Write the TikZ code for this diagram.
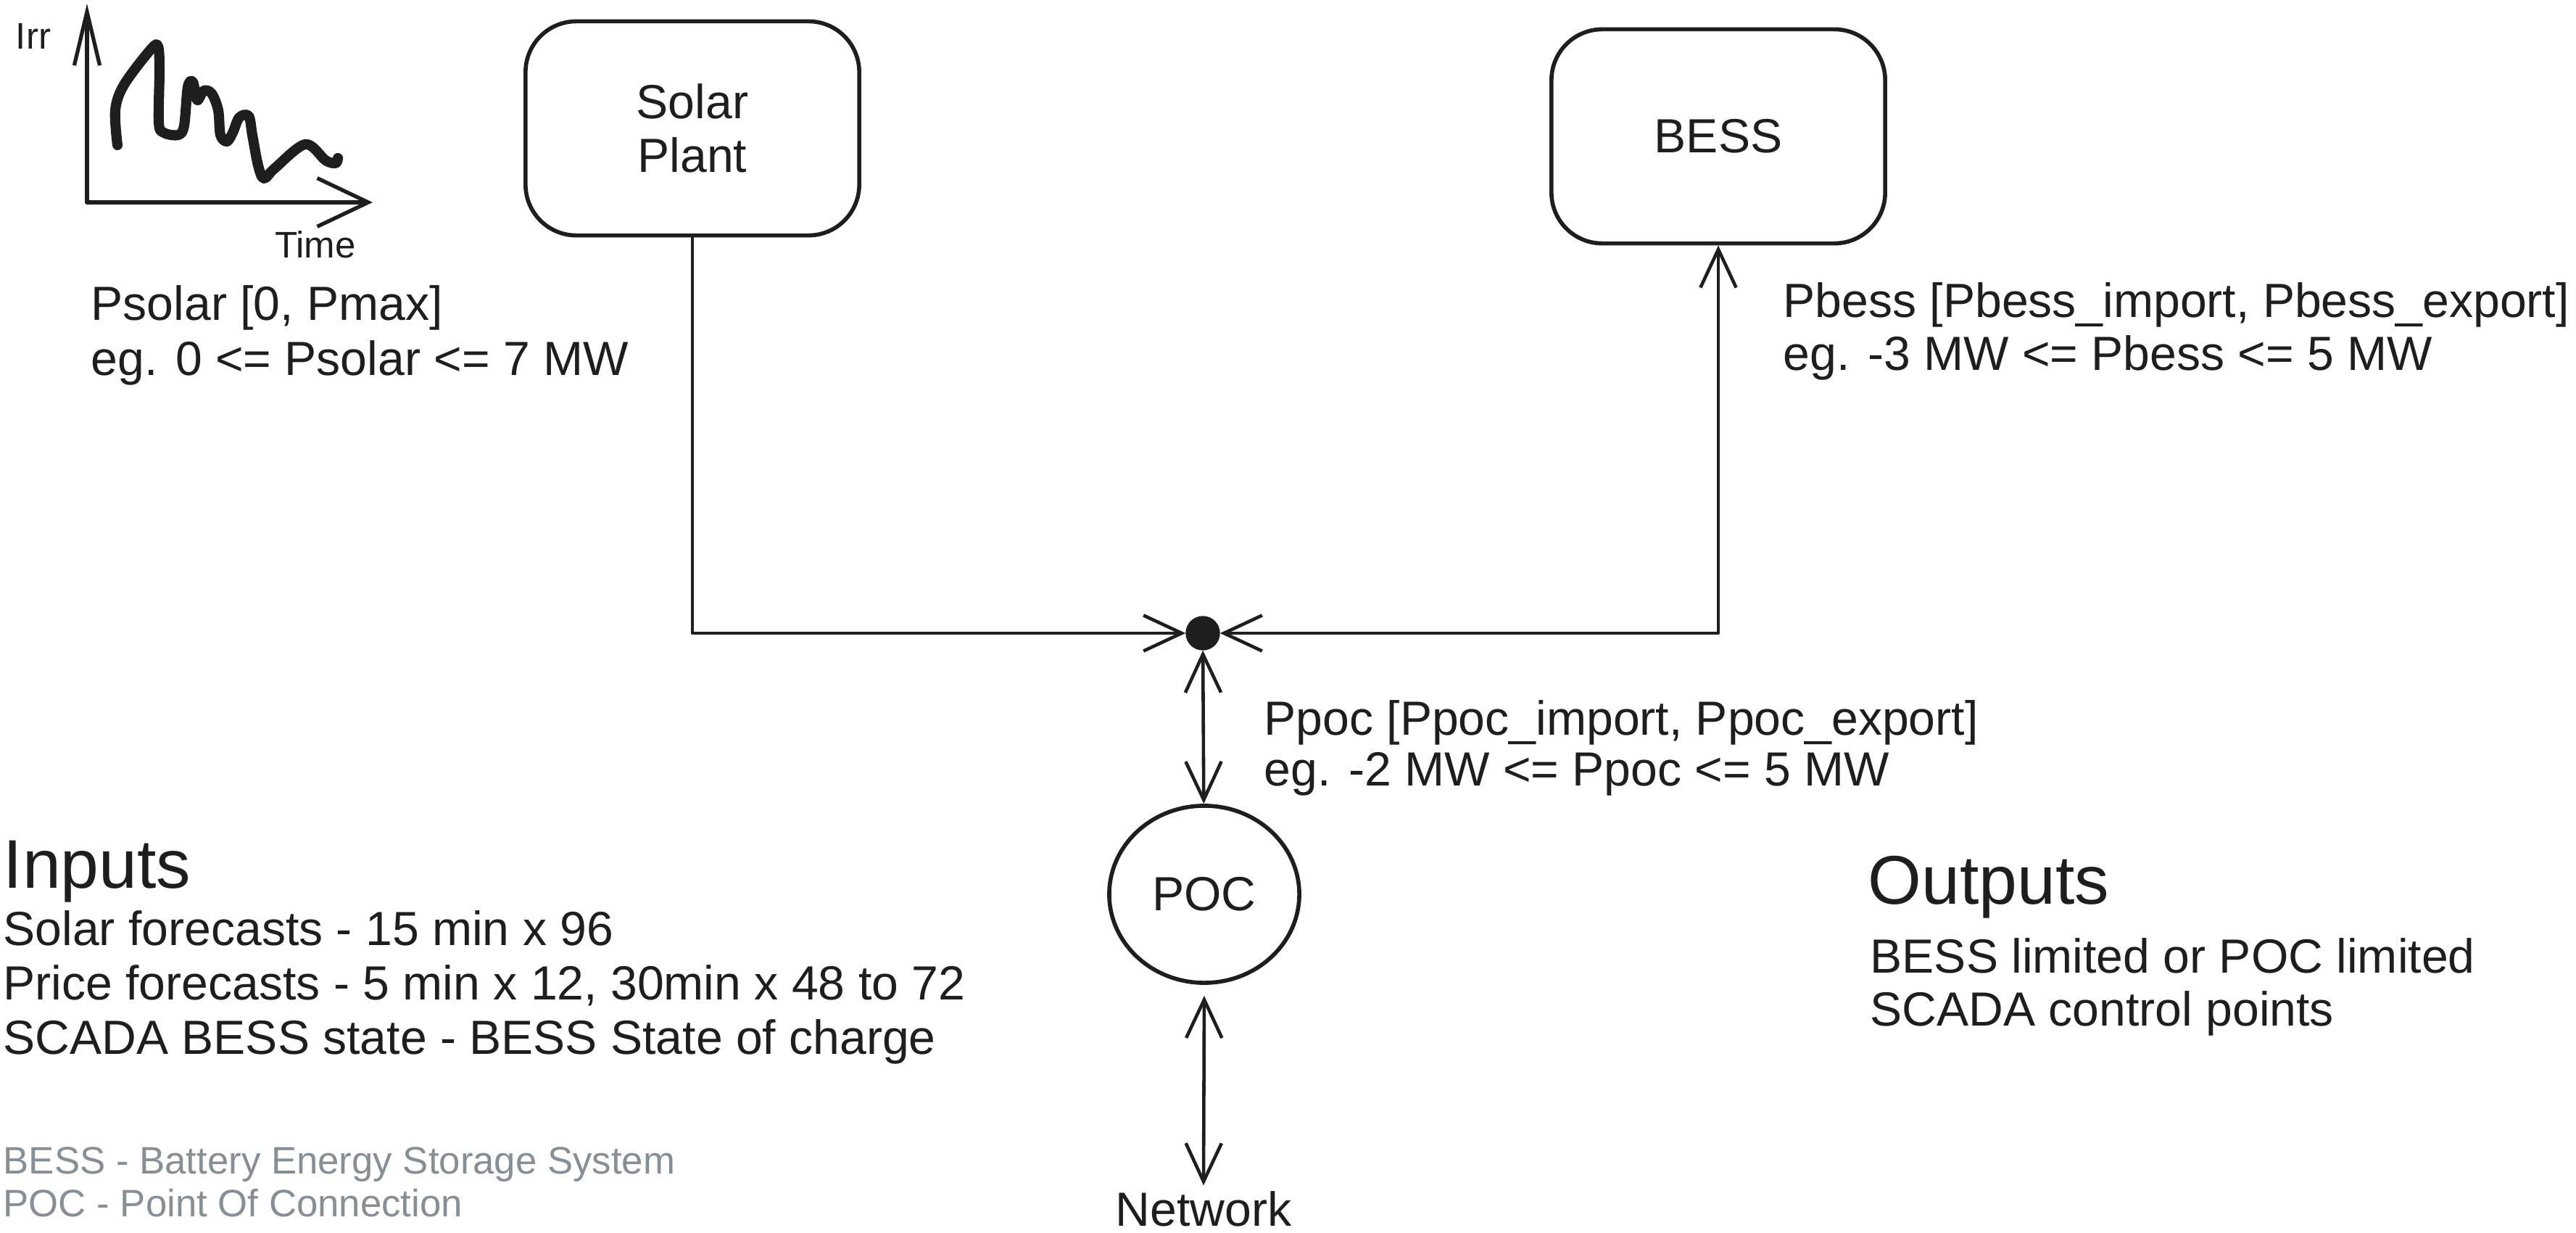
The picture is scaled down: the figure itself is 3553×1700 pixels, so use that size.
\documentclass[tikz,border=0pt]{standalone}
\usepackage{fontspec}
\setmainfont{Liberation Sans}
\usetikzlibrary{arrows.meta,shapes.geometric}
\definecolor{ink}{HTML}{1E1E1E}
\definecolor{legendgray}{HTML}{868E96}
\newcommand{\mainsz}{\fontsize{18.8}{21}\selectfont}
\newcommand{\headsz}{\fontsize{27}{32}\selectfont}
\newcommand{\legsz}{\fontsize{15}{17}\selectfont}
\newcommand{\tinysz}{\fontsize{14.5}{17}\selectfont}
\tikzset{
  sbarb/.tip={Straight Barb[length=15pt,width=14pt]},
  ybarb/.tip={Straight Barb[length=21pt,width=10pt]},
  xbarb/.tip={Straight Barb[length=20pt,width=19pt]},
  box/.style={draw=ink, line width=1.6pt, rounded corners=0.7cm, minimum width=4.6cm,
    minimum height=2.95cm, align=center, text=ink, font=\mainsz, inner sep=0pt},
  conn/.style={draw=ink, line width=1.3pt, line cap=round, line join=round},
  axisline/.style={draw=ink, line width=1.5pt, line cap=round, line join=round},
  lbl/.style={text=ink, font=\mainsz, inner sep=0pt, anchor=base west},
  heading/.style={text=ink, font=\headsz, inner sep=0pt, anchor=base west},
  legend/.style={text=legendgray, font=\legsz, inner sep=0pt, anchor=base west},
}
\begin{document}
\begin{tikzpicture}[x=0.01cm, y=-0.01cm]
\useasboundingbox (0,0) rectangle (3553,1700);
\fill[white] (0,0) rectangle (3553,1700);

% irradiance chart
\coordinate (ytop) at (120,5);
\coordinate (origin) at (120,279);
\coordinate (xend) at (514,279);
\draw[axisline, ybarb-xbarb] (ytop) -- (origin) -- (xend);
\node[text=ink, font=\tinysz, inner sep=0pt, anchor=base] (irr) at (46,68) {Irr};
\node[text=ink, font=\tinysz, inner sep=0pt, anchor=base] (time) at (435,356) {Time};
\draw[ink, line width=4pt, line cap=round, line join=round]
  plot[smooth, tension=0.55] coordinates {
  (162,200) (159,152) (171,117) (208,68) (218,64) (220,96) (219,169) (226,183)
  (246,186) (254,173) (259,120) (266,113) (272,138) (281,125) (292,129) (301,152)
  (304,186) (313,195) (321,183) (330,162) (343,160) (348,186) (356,228) (364,246)
  (379,232) (421,199) (449,221) (463,225) (466,218)};

\node[lbl] (ps1) at (125,442) {Psolar [0, Pmax]};
\node[lbl] (ps2) at (125,517) {eg. 0 <= Psolar <= 7 MW};

% main blocks
\node[box] (solar) at (955,177) {Solar\\Plant};
\node[box] (bess) at (2370,188) {BESS};
\node[circle, fill=ink, draw=ink, minimum size=0.46cm, inner sep=0pt] (J) at (1659,873) {};
\node[ellipse, draw=ink, line width=1.6pt, minimum width=2.62cm, minimum height=2.44cm,
  text=ink, font=\mainsz, inner sep=0pt] (poc) at (1661,1233) {POC};
\node[text=ink, font=\mainsz, inner sep=2pt, anchor=base] (net) at (1660,1690) {Network};

% connectors
\draw[conn, -sbarb] (solar.south) |- (J);
\draw[conn, sbarb-sbarb] (J) -| (bess.south);
\draw[conn, sbarb-sbarb] (J) -- (poc);
\draw[conn, sbarb-sbarb, shorten <=0.15cm] (poc.south) -- (net.north);

\node[lbl] (pb1) at (2459,437) {Pbess [Pbess\_import, Pbess\_export]};
\node[lbl] (pb2) at (2459,510) {eg. -3 MW <= Pbess <= 5 MW};
\node[lbl] (pp1) at (1743,1013) {Ppoc [Ppoc\_import, Ppoc\_export]};
\node[lbl] (pp2) at (1743,1083) {eg. -2 MW <= Ppoc <= 5 MW};

% inputs
\node[heading] (inh) at (4,1224) {Inputs};
\node[lbl] (in1) at (4,1303) {Solar forecasts - 15 min x 96};
\node[lbl] (in2) at (4,1378) {Price forecasts - 5 min x 12, 30min x 48 to 72};
\node[lbl] (in3) at (4,1453) {SCADA BESS state - BESS State of charge};

% legend
\node[legend] (lg1) at (4,1618) {BESS - Battery Energy Storage System};
\node[legend] (lg2) at (4,1677) {POC - Point Of Connection};

% outputs
\node[heading] (outh) at (2576,1246) {Outputs};
\node[lbl] (out1) at (2579,1341) {BESS limited or POC limited};
\node[lbl] (out2) at (2579,1414) {SCADA control points};
\end{tikzpicture}
\end{document}
